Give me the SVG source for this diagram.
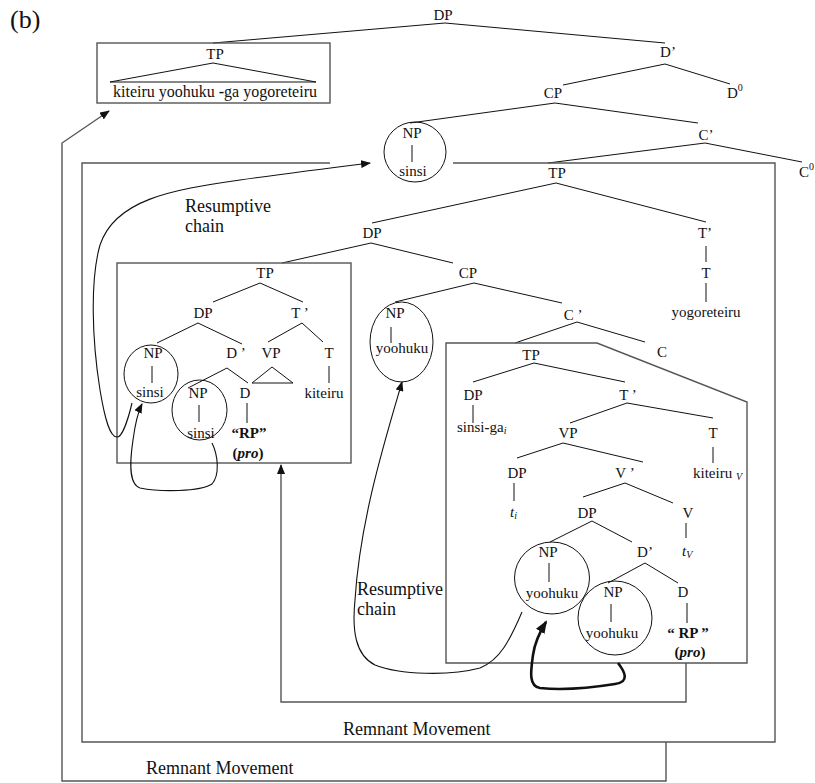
<svg xmlns="http://www.w3.org/2000/svg" width="815" height="783" viewBox="0 0 815 783">
<defs>
<style>
text{font-family:"Liberation Serif","Times New Roman",serif;fill:#111;}
.l{font-size:15px;text-anchor:middle}
.s{font-size:15px}
.big{font-size:18px}
.sub{font-size:10px;font-style:italic}
.sup{font-size:10px}
.e{stroke:#111;stroke-width:1;fill:none}
.circ{fill:none;stroke:#111;stroke-width:1}
.box{fill:none;stroke:#555;stroke-width:1.4}
.mv{fill:none;stroke:#555;stroke-width:1.4}
.c{fill:none;stroke:#111;stroke-width:1.1}
.ct{fill:none;stroke:#111;stroke-width:2.6}
.b{font-weight:bold}
</style>
<marker id="ah" markerWidth="10" markerHeight="8" refX="9" refY="4" orient="auto" markerUnits="userSpaceOnUse"><path d="M0,0 L10,4 L0,8 z" fill="#111"/></marker>
<marker id="ahb" markerWidth="13" markerHeight="10" refX="11" refY="5" orient="auto" markerUnits="userSpaceOnUse"><path d="M0,0 L13,5 L0,10 z" fill="#111"/></marker>
</defs>
<rect width="815" height="783" fill="#fff"/>
<text x="10" y="28" style="font-size:26px">(b)</text>

<g id="edges">
<path class="e" d="M445,23 L213,43 M445,23 L665,43 M665,64 L563,85 M665,64 L730,84 M555,103 L410,123 M555,103 L698,123 M705,143 L548,163 M705,143 L802,162 M556,183 L372,223 M556,183 L706,222 M371,243 L282,263 M371,243 L453,263 M474,283 L395,302 M474,283 L562,303 M577,322 L515,343 M577,322 L645,342 M260,283 L213,302 M260,283 L303,302 M198,323 L157,343 M198,323 L242,344 M302,323 L268,342 M302,323 L323,342 M227,368 L188,388 M227,368 L248,383 M534,363 L473,382 M534,363 L625,382 M627,403 L570,423 M627,403 L713,418 M563,443 L517,458 M563,443 L643,462 M625,483 L583,497 M625,483 L673,503 M592,521 L550,542 M592,521 L632,542 M645,563 L608,583 M645,563 L678,583"/>
</g>

<g id="n-dp0"><text class="l" x="443" y="20">DP</text></g>
<g id="n-tpbox">
<rect class="box" x="97" y="43" width="233" height="60"/>
<text class="l" x="215" y="59">TP</text>
<path class="e" d="M110,82 L213,63 L316,82 Z"/>
<text x="215" y="97" style="font-size:16px;text-anchor:middle">kiteiru yoohuku <tspan class="b">-</tspan>ga yogoreteiru</text>
</g>
<g id="n-dbar0"><text class="l" x="668" y="57">D’</text></g>
<g id="n-d0"><text class="s" x="727" y="98">D<tspan class="sup" dy="-7">0</tspan></text></g>
<g id="n-cp0"><text class="l" x="553" y="98">CP</text></g>
<g id="n-np0">
<ellipse class="circ" cx="415" cy="152" rx="31" ry="30"/>
<text class="l" x="412" y="138">NP</text>
<path class="e" d="M412,145 L412,162"/>
<text class="l" x="413" y="176">sinsi</text>
</g>
<g id="n-cbar0"><text class="l" x="706" y="140">C’</text></g>
<g id="n-c0"><text class="s" x="799" y="177">C<tspan class="sup" dy="-7">0</tspan></text></g>
<g id="n-tp1"><text class="l" x="557" y="178">TP</text></g>
<g id="n-dp1"><text class="l" x="372" y="238">DP</text></g>
<g id="n-tbar1"><text class="l" x="705" y="238">T’</text></g>
<g id="n-t1">
<path class="e" d="M706,246 L706,262 M706,283 L706,302"/>
<text class="l" x="706" y="278">T</text>
<text class="l" x="706" y="317">yogoreteiru</text>
</g>
<g id="n-cp2"><text class="l" x="468" y="278">CP</text></g>

<g id="n-leftbox">
<rect class="box" x="117" y="263" width="234" height="200"/>
</g>
<g id="n-tp2"><text class="l" x="265" y="278">TP</text></g>
<g id="n-dp2"><text class="l" x="203" y="318">DP</text></g>
<g id="n-tbar2"><text class="l" x="300" y="318">T ’</text></g>
<g id="n-np2a">
<ellipse class="circ" cx="151" cy="374" rx="27" ry="29"/>
<text class="l" x="153" y="358">NP</text>
<path class="e" d="M152,366 L152,383"/>
<text class="l" x="150" y="397">sinsi</text>
</g>
<g id="n-dbar2"><text class="l" x="236" y="358">D ’</text></g>
<g id="n-vp2">
<text class="l" x="271" y="358">VP</text>
<path class="e" d="M272,367 L252,383 L293,383 Z"/>
</g>
<g id="n-t2">
<text class="l" x="329" y="358">T</text>
<path class="e" d="M329,366 L329,383"/>
<text class="l" x="324" y="398">kiteiru</text>
</g>
<g id="n-np2b">
<ellipse class="circ" cx="199.5" cy="410" rx="27.5" ry="30"/>
<text class="l" x="198" y="398">NP</text>
<path class="e" d="M199,405 L199,422"/>
<text class="l" x="201" y="438">sinsi</text>
</g>
<g id="n-d2">
<text class="l" x="245" y="398">D</text>
<path class="e" d="M247,403 L247,423"/>
<text class="l b" x="249" y="438">“RP”</text>
<text class="l b" x="248" y="458">(<tspan font-style="italic">pro</tspan>)</text>
</g>

<g id="n-np1">
<ellipse class="circ" cx="401.5" cy="342" rx="31.5" ry="40"/>
<text class="l" x="395" y="318">NP</text>
<path class="e" d="M391,327 L391,343"/>
<text class="l" x="402" y="353">yoohuku</text>
</g>
<g id="n-cbar2"><text class="l" x="573" y="320">C ’</text></g>
<g id="n-c2"><text class="l" x="662" y="357">C</text></g>

<g id="n-innerbox"><path class="box" d="M446,343 L597,343 L747,402 L747,663 L446,663 Z"/></g>
<g id="n-tp3"><text class="l" x="531" y="360">TP</text></g>
<g id="n-dp3">
<text class="l" x="473" y="400">DP</text>
<path class="e" d="M473,405 L473,423"/>
<text class="s" x="457" y="432">sinsi<tspan class="b">-</tspan>ga<tspan class="sub" dy="2">i</tspan></text>
</g>
<g id="n-tbar3"><text class="l" x="628" y="400">T ’</text></g>
<g id="n-vp3"><text class="l" x="568" y="438">VP</text></g>
<g id="n-t3">
<text class="l" x="713" y="438">T</text>
<path class="e" d="M713,447 L713,463"/>
<text class="s" x="693" y="478">kiteiru <tspan class="sub" dy="2">V</tspan></text>
</g>
<g id="n-dp4">
<text class="l" x="517" y="478">DP</text>
<path class="e" d="M514,483 L514,501"/>
<text x="510" y="517" class="s" font-style="italic">t<tspan class="sub" dy="2">i</tspan></text>
</g>
<g id="n-vbar3"><text class="l" x="625" y="478">V ’</text></g>
<g id="n-dp5"><text class="l" x="587" y="518">DP</text></g>
<g id="n-v3">
<text class="l" x="688" y="518">V</text>
<path class="e" d="M686,523 L686,538"/>
<text x="682" y="556" class="s" font-style="italic">t<tspan class="sub" dy="2">V</tspan></text>
</g>
<g id="n-np3a">
<ellipse class="circ" cx="552" cy="578" rx="37.5" ry="36"/>
<text class="l" x="548" y="557">NP</text>
<path class="e" d="M549,563 L549,582"/>
<text class="l" x="552" y="598">yoohuku</text>
</g>
<g id="n-dbar3"><text class="l" x="645" y="557">D’</text></g>
<g id="n-np3b">
<ellipse class="circ" cx="615" cy="618" rx="37" ry="37"/>
<text class="l" x="613" y="597">NP</text>
<path class="e" d="M611,604 L611,622"/>
<text class="l" x="612" y="638">yoohuku</text>
</g>
<g id="n-d3">
<text class="l" x="683" y="597">D</text>
<path class="e" d="M687,603 L687,623"/>
<text class="l b" x="688" y="638">“ RP ”</text>
<text class="l b" x="690" y="657">(<tspan font-style="italic">pro</tspan>)</text>
</g>

<g id="connectors">
<path class="mv" d="M666,742 L666,781 L62,781 L62,143 L109,111" marker-end="url(#ah)"/>
<path class="mv" d="M330,163 L82,163 L82,742 L775,742 L775,163 L453,163"/>
<path class="mv" d="M686,663 L686,702 L281,702 L281,465" marker-end="url(#ah)"/>
<path class="c" d="M132,403 C128,420 122,437 117,437 C110,437 105,420 100,390 C92,340 90,280 100,245 C115,200 170,190 240,180 C290,173 330,168 370,163" marker-end="url(#ah)"/>
<path class="c" d="M212,443 C218,455 220,475 212,484 C200,492 160,492 140,488 C128,484 130,460 133,440 C135,425 138,412 142,404" marker-end="url(#ah)"/>
<path class="c" d="M522,612 C510,640 500,660 480,668 C450,676 400,675 375,665 C355,655 352,630 355,600 C360,520 385,440 402,382" marker-end="url(#ah)"/>
<path class="ct" d="M618,663 C625,672 630,682 615,684 C590,688 560,690 540,688 C528,686 531,670 533,655 C535,640 541,630 546,622" marker-end="url(#ahb)"/>
</g>

<g id="labels">
<text class="big" x="185" y="212">Resumptive</text>
<text class="big" x="185" y="232">chain</text>
<text class="big" x="357" y="595">Resumptive</text>
<text class="big" x="357" y="615">chain</text>
<text class="big" x="343" y="735">Remnant Movement</text>
<text class="big" x="146" y="774">Remnant Movement</text>
</g>
</svg>
